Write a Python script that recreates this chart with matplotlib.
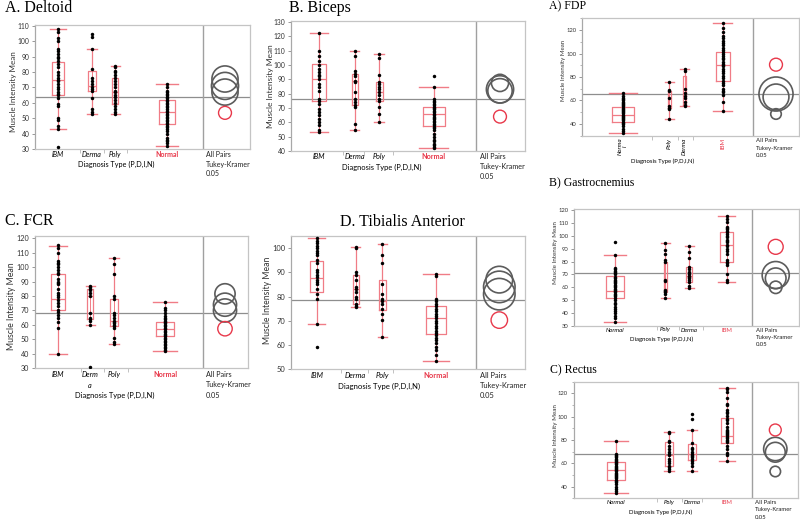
import matplotlib
matplotlib.use("Agg")
import matplotlib.pyplot as plt
from matplotlib.patches import Ellipse

plt.rcParams['font.family'] = ['Lato', 'DejaVu Sans']

W, H = 800, 519

# ---------------- data ----------------
deltoid_pts = {
    'IBM': [31, 43, 45, 49, 50, 58, 59, 63, 65, 66, 67, 69, 70, 72, 74, 75, 76, 78, 80, 83, 85, 87, 89, 90, 92, 94, 95, 100, 102, 106, 108],
    'Derma': [53, 54, 56, 63, 68, 69, 70, 72, 74, 76, 82, 95, 103, 105],
    'Poly': [53, 54, 56, 58, 60, 62, 64, 65, 67, 68, 70, 72, 74, 76, 78, 80, 81, 83, 84],
    'Normal': [32, 34, 35, 36, 37, 40, 42, 43, 44, 45, 46, 47, 48, 49, 50, 51, 52, 53, 54, 55, 56, 57, 58, 59, 60, 61, 62, 63, 64, 65, 66, 67, 68, 70, 72],
}
deltoid_box = {'IBM': (43, 65, 75, 86.5, 108), 'Derma': (53, 68, 71, 81, 95),
               'Poly': (53, 59, 67, 76, 84), 'Normal': (32, 46, 54, 62, 72)}
deltoid_gray = [(75.5, 8.5), (71, 8.8), (67, 8.5)]
deltoid_red = (53.5, 4.2)
deltoid_mean = 64

biceps_pts = {
    'IBM': [53, 55, 58, 60, 62, 65, 67, 69, 73, 75, 76, 82, 85, 87, 90, 92, 93, 95, 97, 100, 103, 106, 110, 122],
    'Derma': [55, 59, 71, 72, 74, 76, 81, 88, 89, 92, 94, 96, 106, 110],
    'Poly': [60, 66, 71, 75, 76, 79, 81, 83, 85, 87, 88, 93, 105, 108],
    'Normal': [42, 43, 44, 45, 47, 48, 50, 52, 55, 56, 57, 58, 59, 60, 61, 62, 63, 64, 65, 66, 67, 68, 69, 70, 71, 72, 73, 74, 75, 76, 85, 92],
}
biceps_box = {'IBM': (53, 75, 90, 101, 122), 'Derma': (55, 72, 89, 94, 110),
              'Poly': (60, 75, 81, 88, 108), 'Normal': (42, 57.5, 66, 71, 85)}
biceps_gray = [(87.5, 6), (83, 9.5), (82, 8.5)]
biceps_red = (64, 4.5)
biceps_mean = 76

fcr_pts = {
    'IBM': [40, 58, 62, 65, 67, 69, 70, 73, 75, 77, 79, 81, 82, 85, 88, 89, 90, 92, 95, 96, 98, 100, 102, 103, 104, 110, 113, 115],
    'Derma': [31, 60, 63, 64, 65, 68, 80, 82, 84, 85, 86, 87],
    'Poly': [47, 48, 51, 58, 59, 60, 61, 62, 63, 65, 67, 68, 78, 80, 95, 102, 106],
    'Normal': [42, 43, 44, 45, 46, 47, 48, 49, 50, 51, 52, 53, 54, 55, 56, 57, 58, 59, 60, 61, 62, 63, 64, 65, 66, 68, 70, 72, 76],
}
fcr_box = {'IBM': (40, 70, 78, 95, 114.5), 'Derma': (60, 64, 80, 85, 87),
           'Poly': (47, 59, 63, 78, 106), 'Normal': (42, 52, 57, 62, 76)}
fcr_gray = [(81.5, 7), (74, 8), (70, 8)]
fcr_red = (57.4, 5)
fcr_mean = 68

tib_pts = {
    'IBM': [59, 68.5, 79, 81, 83, 85, 86, 87, 88, 89, 90, 91, 94, 95, 97, 98, 99, 100, 101, 102, 103, 104],
    'Derma': [75.5, 76, 77, 79, 80, 82, 83, 84, 87, 89, 90, 100, 100.5],
    'Poly': [63.5, 70.5, 73, 75, 77, 78, 79, 81, 85, 94, 97, 101.5],
    'Normal': [53.5, 56, 58, 59, 61, 62, 63, 64, 65, 66, 67, 68, 69, 70, 71, 72, 73, 74, 75, 76, 77, 78, 79, 88.5, 89.5],
}
tib_box = {'IBM': (68.5, 82, 87.5, 94.5, 104), 'Derma': (75.5, 77, 83, 89, 100.5),
           'Poly': (63.5, 74.5, 78, 87, 101.5), 'Normal': (53.5, 64.5, 71, 76, 89.5)}
tib_gray = [(87, 5.5), (84, 6.5), (81, 6.5)]
tib_red = (70.3, 3.4)
tib_mean = 78.7

fdp_pts = {
    'Normal': [32, 34, 36, 38, 40, 41, 42, 43, 44, 45, 46, 47, 48, 49, 50, 51, 52, 53, 54, 55, 56, 57, 58, 59, 60, 61, 62, 64, 66],
    'Poly': [44, 53, 54, 55, 62, 68, 69, 76],
    'Derma': [55, 56, 59, 62, 64, 66, 70, 85, 87],
    'IBM': [51, 59, 65, 67, 68, 70, 73, 75, 77, 79, 81, 83, 85, 87, 89, 90, 91, 93, 95, 96, 98, 100, 101, 103, 105, 107, 109, 111, 113, 115, 118, 122, 126],
}
fdp_box = {'Normal': (32, 42, 48, 54.5, 66), 'Poly': (44, 54, 62, 68.5, 76),
           'Derma': (55, 56, 67, 81, 87), 'IBM': (51, 77, 90, 101, 126)}
fdp_gray = [(65.5, 14.5), (63, 11), (48.5, 4.5)]
fdp_red = (90.5, 5.5)
fdp_mean = 65.6

gas_pts = {
    'Normal': [33, 36, 38, 40, 42, 43, 45, 47, 48, 50, 52, 53, 54, 55, 56, 57, 58, 59, 60, 61, 62, 63, 64, 65, 66, 67, 68, 70, 71, 72, 73, 74, 75, 85, 95],
    'Poly': [51.5, 55, 56, 57, 58, 65, 66, 80, 81, 86, 89, 94.5],
    'Derma': [59.5, 61, 64, 66, 67, 68, 69, 70, 72, 74, 76, 83, 87, 92],
    'IBM': [64, 66, 70, 77, 79, 80, 81, 86, 88, 90, 92, 93, 95, 96, 97, 99, 100, 101, 103, 104, 105, 106, 107, 111, 113, 115],
}
gas_box = {'Normal': (33, 52, 57.5, 69, 85), 'Poly': (51.5, 56, 58.5, 80, 94.5),
           'Derma': (59.5, 64, 69, 76, 92), 'IBM': (64, 79.5, 92.5, 103, 115)}
gas_gray = [(69.5, 10.5), (67, 8), (60, 4.8)]
gas_red = (91.4, 5.8)
gas_mean = 71

rec_pts = {
    'Normal': [34.5, 36, 38, 40, 42, 44, 45, 46, 47, 48, 49, 50, 51, 52, 53, 54, 55, 56, 57, 58, 59, 60, 61, 62, 63, 64, 65, 66, 67, 68, 79],
    'Poly': [53, 55, 57, 58, 60, 62, 64, 67, 68, 70, 72, 75, 78, 79, 86, 87],
    'Derma': [53, 58, 60, 62, 64, 65, 66, 67, 68, 70, 72, 73, 77, 88.5, 98, 102],
    'IBM': [62, 67, 69, 72, 75, 78, 79, 80, 82, 83, 84, 85, 86, 87, 88, 89, 91, 95, 97, 98, 101, 103, 104, 106, 110, 111, 116, 121, 124, 125],
}
rec_box = {'Normal': (34.5, 45.5, 54.5, 61, 79), 'Poly': (53, 58, 67.5, 78, 87),
           'Derma': (53, 63, 68, 76.5, 88.5), 'IBM': (62, 77.5, 83.5, 98.5, 125)}
rec_gray = [(72.3, 10), (69.5, 8.5), (53, 4.5)]
rec_red = (88.6, 5.1)
rec_mean = 67.8

# ---------------- styling ----------------
BOXC = '#f07c86'
REDC = '#e8384a'
GRAYC = '#5c5c5c'
FRAME = '#c4c4c4'

fig = plt.figure(figsize=(8, 5.19), dpi=100)


def fx(x):
    return x / W


def fy(y):
    return 1 - y / H


def panel(rect, ylim, yticks, pts, box, xs, widths, divider, seps, cx,
          gray, red, mean, fs, yminor=None):
    l, t, r, b = rect
    ax = fig.add_axes([fx(l), fy(b), (r - l) / W, (b - t) / H])
    ax.set_xlim(l, r)
    ax.set_ylim(*ylim)
    ppu = (b - t) / (ylim[1] - ylim[0])
    for g, vals in pts.items():
        lo, q1, med, q3, hi = box[g]
        x, w = xs[g], widths[g]
        st = [dict(med=med, q1=q1, q3=q3, whislo=lo, whishi=hi, fliers=[])]
        ax.bxp(st, positions=[x], widths=[w], capwidths=[max(w * 1.3, 9)],
               manage_ticks=False,
               boxprops=dict(color=BOXC, lw=0.9),
               medianprops=dict(color=BOXC, lw=0.9),
               whiskerprops=dict(color=BOXC, lw=0.9),
               capprops=dict(color=BOXC, lw=1.0))
        ax.plot([x, x], [q1, q3], color=BOXC, lw=0.7, zorder=2)
        ax.plot([x] * len(vals), vals, 'o', color='black', ms=2.5, mew=0, zorder=3)
    ax.axhline(mean, color='#8e8e8e', lw=0.9, zorder=1)
    ax.axvline(divider, color='#a0a0a0', lw=1.0)
    for c, rad in gray:
        ax.add_patch(Ellipse((cx, c), 2 * rad * ppu, 2 * rad, fill=False,
                             ec=GRAYC, lw=1.2))
    ax.add_patch(Ellipse((cx, red[0]), 2 * red[1] * ppu, 2 * red[1], fill=False,
                         ec=REDC, lw=1.0))
    ax.set_yticks(yticks)
    if yminor is not None:
        ax.set_yticks(yminor, minor=True)
    ax.tick_params(axis='y', labelsize=fs, length=2.5, width=0.6, color='#888888',
                   pad=1.5, labelcolor='#333333')
    ax.tick_params(axis='y', which='minor', length=1.5, width=0.5, color='#999999')
    ax.set_xticks(seps)
    ax.set_xticklabels([])
    ax.tick_params(axis='x', length=3, width=0.5, color='#aaaaaa')
    for s in ax.spines.values():
        s.set_color(FRAME)
        s.set_linewidth(0.9)
    ax.spines['left'].set_color('#a8a8a8')
    return ax


def ylabel(x, y, fs):
    fig.text(fx(x), fy(y), 'Muscle Intensity Mean', rotation=90, ha='center',
             va='center', fontsize=fs, color='#333333')


def cat_labels(names, xs, y, fs, red_name, bold=False, rot=0):
    for n, lab in names:
        c = REDC if n == red_name else 'black'
        w = 'bold' if (n == red_name and bold) else 'normal'
        st = 'normal' if (n == red_name) else 'italic'
        if rot:
            fig.text(fx(xs[n]), fy(y), lab, rotation=90, ha='center', va='top',
                     fontsize=fs, color=c, style=st, weight=w, linespacing=1.0)
        else:
            fig.text(fx(xs[n]), fy(y), lab, ha='center', va='top', fontsize=fs,
                     color=c, style=st, weight=w, linespacing=1.6)


def pairs_text(x, y, fs, step):
    for i, s in enumerate(['All Pairs', 'Tukey-Kramer', '0.05']):
        fig.text(fx(x), fy(y + i * step), s, ha='left', va='top', fontsize=fs,
                 color='#222222')


def title(x, y, s, fs, ha='left'):
    fig.text(fx(x), fy(y), s, ha=ha, va='center', fontsize=fs,
             family='Liberation Serif', color='black')


# ---------------- A. Deltoid ----------------
xs = {'IBM': 58, 'Derma': 92, 'Poly': 115, 'Normal': 167}
panel((35, 25, 250, 149), (30, 110.6), range(30, 111, 10), deltoid_pts, deltoid_box, xs,
      {'IBM': 12.6, 'Derma': 7.4, 'Poly': 6.6, 'Normal': 16.6}, 203, [80, 104, 127], 225,
      deltoid_gray, deltoid_red, deltoid_mean, 4.9)
title(5, 8, 'A. Deltoid', 11.5)
ylabel(13.5, 92, 5.8)
cat_labels([('IBM', 'IBM'), ('Derma', 'Derma'), ('Poly', 'Poly'), ('Normal', 'Normal')],
           xs, 151, 5, 'Normal', bold=True)
fig.text(fx(116), fy(161), 'Diagnosis Type (P,D,I,N)', ha='center', va='top', fontsize=5.2)
pairs_text(206, 151, 5, 9.7)

# ---------------- B. Biceps ----------------
xs = {'IBM': 318.7, 'Derma': 354.7, 'Poly': 379, 'Normal': 433.7}
panel((291, 21, 525, 151), (40, 130.7), range(40, 131, 10), biceps_pts, biceps_box, xs,
      {'IBM': 13.6, 'Derma': 6.3, 'Poly': 7, 'Normal': 22}, 476, [342.7, 364, 393.3], 500,
      biceps_gray, biceps_red, biceps_mean, 4.9)
title(289, 8, 'B. Biceps', 11.5)
ylabel(270, 86, 6)
cat_labels([('IBM', 'IBM'), ('Derma', 'Derma'), ('Poly', 'Poly'), ('Normal', 'Normal')],
           xs, 153, 5.2, 'Normal', bold=True)
fig.text(fx(382), fy(164), 'Diagnosis Type (P,D,I,N)', ha='center', va='top', fontsize=5.4)
pairs_text(480, 153, 5.2, 10)

# ---------------- C. FCR ----------------
xs = {'IBM': 58, 'Derma': 90, 'Poly': 114, 'Normal': 165}
panel((35, 236, 248, 368.3), (30, 121.5), range(30, 121, 10), fcr_pts, fcr_box, xs,
      {'IBM': 14.3, 'Derma': 6.7, 'Poly': 8, 'Normal': 18.7}, 203, [81, 104, 127.7], 225,
      fcr_gray, fcr_red, fcr_mean, 5.2)
title(5, 221, 'C. FCR', 11.5)
ylabel(12, 306, 6.3)
cat_labels([('IBM', 'IBM'), ('Derma', 'Derm\na'), ('Poly', 'Poly'), ('Normal', 'Normal')],
           xs, 371, 5.2, 'Normal', bold=True)
fig.text(fx(115), fy(392), 'Diagnosis Type (P,D,I,N)', ha='center', va='top', fontsize=5.4)
pairs_text(206, 371, 5.2, 10.3)

# ---------------- D. Tibialis Anterior ----------------
xs = {'IBM': 316.7, 'Derma': 355.7, 'Poly': 382.3, 'Normal': 435.7}
panel((291, 236, 525, 369.3), (50, 105), range(50, 101, 10), tib_pts, tib_box, xs,
      {'IBM': 13.3, 'Derma': 6.3, 'Poly': 7.3, 'Normal': 19.7}, 476, [341, 367.7, 393.3], 499.3,
      tib_gray, tib_red, tib_mean, 5.4)
title(402, 222, 'D. Tibialis Anterior', 11.5, ha='center')
ylabel(267, 300, 6.2)
cat_labels([('IBM', 'IBM'), ('Derma', 'Derma'), ('Poly', 'Poly'), ('Normal', 'Normal')],
           xs, 372, 5.4, 'Normal', bold=True)
fig.text(fx(379), fy(383), 'Diagnosis Type (P,D,I,N)', ha='center', va='top', fontsize=5.6)
pairs_text(479.5, 372, 5.4, 10.2)

# ---------------- A) FDP ----------------
xs = {'Normal': 622.7, 'Poly': 669, 'Derma': 684.7, 'IBM': 722.7}
panel((582, 18.3, 799, 135.7), (30, 130), range(40, 121, 20), fdp_pts, fdp_box, xs,
      {'Normal': 21.7, 'Poly': 3, 'Derma': 3.5, 'IBM': 14.3}, 753.3, [652, 678, 693], 776,
      fdp_gray, fdp_red, fdp_mean, 4.2, yminor=range(30, 131, 10))
title(549, 6.5, 'A) FDP', 8.5)
ylabel(563.3, 70, 4.4)
cat_labels([('Normal', 'Norma\nl'), ('Poly', 'Poly'), ('Derma', 'Derma'), ('IBM', 'IBM')],
           xs, 137.5, 4.4, 'IBM', rot=90)
fig.text(fx(663), fy(158.5), 'Diagnosis Type (P,D,I,N)', ha='center', va='top', fontsize=4.3)
pairs_text(756, 138.5, 4.3, 7.5)

# ---------------- B) Gastrocnemius ----------------
xs = {'Normal': 615, 'Poly': 665.3, 'Derma': 689.3, 'IBM': 726.7}
panel((574, 209.3, 799, 326), (30, 120.5), range(30, 121, 10), gas_pts, gas_box, xs,
      {'Normal': 17.3, 'Poly': 3.5, 'Derma': 5.7, 'IBM': 12.7}, 752.3, [656.7, 679, 703.3], 775.7,
      gas_gray, gas_red, gas_mean, 4.2)
title(549, 183, 'B) Gastrocnemius', 8.5)
ylabel(555.5, 253, 4.5)
cat_labels([('Normal', 'Normal'), ('Poly', 'Poly'), ('Derma', 'Derma'), ('IBM', 'IBM')],
           xs, 327.5, 4.3, 'IBM')
fig.text(fx(662), fy(336.5), 'Diagnosis Type (P,D,I,N)', ha='center', va='top', fontsize=4.3)
pairs_text(755.5, 327.5, 4.3, 7.5)

# ---------------- C) Rectus ----------------
xs = {'Normal': 616, 'Poly': 669, 'Derma': 692.3, 'IBM': 727.3}
panel((573.5, 381.7, 798, 498.3), (30, 130), range(40, 121, 20), rec_pts, rec_box, xs,
      {'Normal': 17.7, 'Poly': 8.3, 'Derma': 7.7, 'IBM': 12.3}, 751.7, [656.7, 681.7, 701.7], 775.3,
      rec_gray, rec_red, rec_mean, 4.2, yminor=range(30, 131, 10))
title(550, 370, 'C) Rectus', 8.5)
ylabel(555, 436, 4.5)
cat_labels([('Normal', 'Normal'), ('Poly', 'Poly'), ('Derma', 'Derma'), ('IBM', 'IBM')],
           xs, 500, 4.3, 'IBM')
fig.text(fx(661), fy(509.5), 'Diagnosis Type (P,D,I,N)', ha='center', va='top', fontsize=4.3)
pairs_text(755, 500, 4.3, 7.3)

fig.savefig('out.png', dpi=100)
